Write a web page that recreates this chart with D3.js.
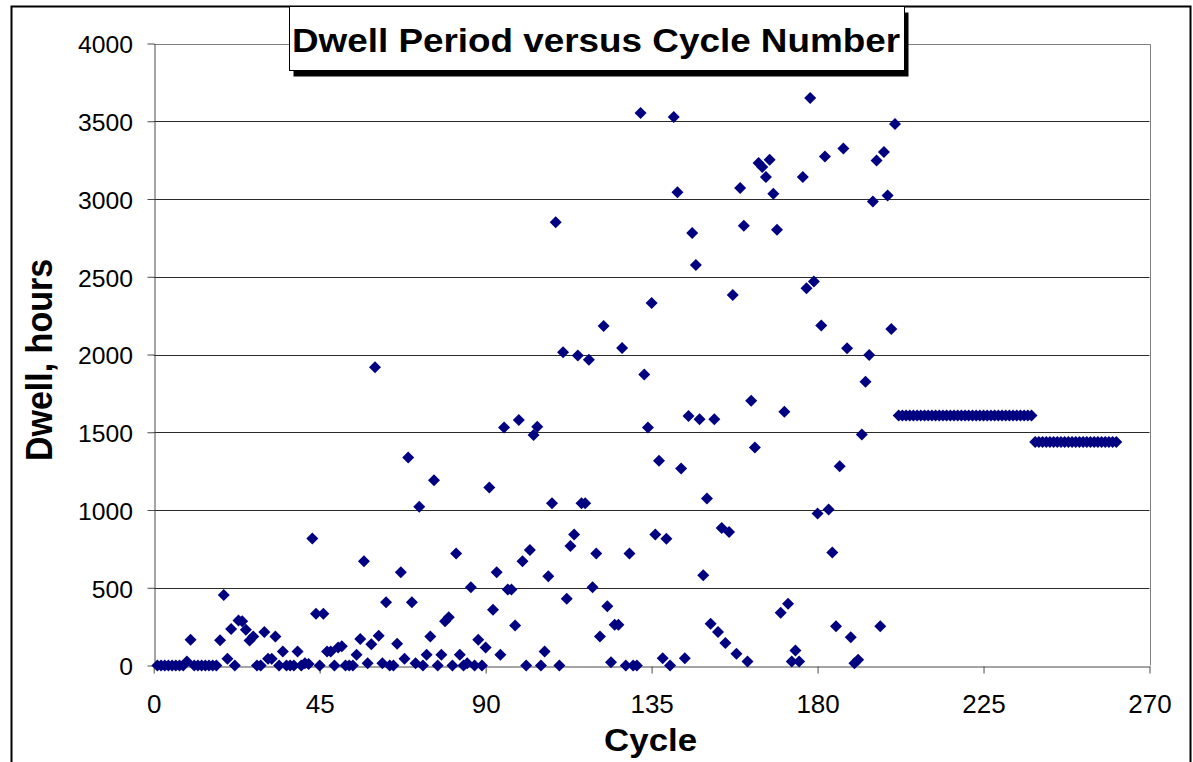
<!DOCTYPE html>
<html>
<head>
<meta charset="utf-8">
<script src="https://cdn.jsdelivr.net/npm/d3@7/dist/d3.min.js"></script>
<style>
  html, body { margin: 0; padding: 0; background: #fff; }
  svg { display: block; }
  text { font-family: "Liberation Sans", Arial, Helvetica, sans-serif; fill: #000; }
</style>
</head>
<body>
<svg id="chart" width="1193" height="762"></svg>
<script>
// Dwell period (hours) recorded for each cycle, starting at cycle 1
const firstCycle = 1;
const dwellHours = [
  0, 0, 0, 0, 0, 0, 0, 0, 25, 165,                 // 1-10
  0, 0, 0, 0, 0, 0, 0, 163, 454, 43,               // 11-20
  234, 0, 290, 284, 230, 161, 187, 0, 0, 215,      // 21-30
  43, 43, 187, 0, 90, 0, 0, 0, 90, 0,              // 31-40
  15, 10, 817, 333, 0, 333, 90, 90, 0, 116,        // 41-50
  123, 0, 0, 0, 69, 170, 671, 15, 137, 1918,       // 51-60
  191, 15, 406, 0, 0, 140, 600, 43, 1338, 406,     // 61-70
  15, 1021, 0, 69, 187, 1192, 0, 69, 284, 310,     // 71-80
  0, 721, 69, 0, 15, 503, 0, 166, 0, 116,          // 81-90
  1144, 359, 600, 69, 1531, 488, 488, 258, 1579, 671, // 91-100
  0, 742, 1482, 1535, 0, 90, 574, 1043, 2850, 0,   // 101-110
  2015, 430, 768, 843, 1994, 1043, 1043, 1966, 503, 721, // 111-120
  187, 2183, 381, 21, 262, 262, 2041, 0, 721, 0,   // 121-130
  0, 3553, 1871, 1531, 2331, 843, 1316, 47, 815, 0, // 131-140
  3527, 3043, 1267, 47, 1604, 2781, 2576, 1583, 580, 1074, // 141-150
  269, 1583, 215, 884, 144, 859, 2383, 75, 3071, 2828, // 151-160
  26, 1702, 1402, 3231, 3205, 3141, 3253, 3034, 2802, 340, // 161-170
  1632, 397, 26, 97, 26, 3141, 2426, 3650, 2469, 977, // 171-180
  2186, 3274, 1003, 726, 253, 1282, 3324, 2040, 182, 15, // 181-190
  37, 1486, 1825, 1997, 2984, 3248, 253, 3302, 3023, 2164, // 191-200
  3483,                                            // 201
  1608, 1608, 1608, 1608, 1608, 1608, 1608, 1608, 1608, // 202-210
  1608, 1608, 1608, 1608, 1608, 1608, 1608, 1608, 1608, 1608, // 211-220
  1608, 1608, 1608, 1608, 1608, 1608, 1608, 1608, 1608, 1608, // 221-230
  1608, 1608, 1608, 1608, 1608, 1608, 1608, 1608,  // 231-238
  1438, 1438, 1438, 1438, 1438, 1438, 1438, 1438, 1438, 1438, // 239-248
  1438, 1438, 1438, 1438, 1438, 1438, 1438, 1438, 1438, 1438, // 249-258
  1438, 1438, 1438                                 // 259-261
];

const xTicks = [0, 45, 90, 135, 180, 225, 270];
const yTicks = [0, 500, 1000, 1500, 2000, 2500, 3000, 3500, 4000];

const chartTitle = "Dwell Period versus Cycle Number";
const xTitle = "Cycle";
const yTitle = "Dwell, hours";

const points = dwellHours.map((v, i) => ({ cycle: firstCycle + i, dwell: v }));

const svg = d3.select("#chart");
const W = 1193, H = 762;
const plot = { left: 153.7, right: 1149.5, top: 43.5, bottom: 665.5 };
const stretch = 1.08;   // text in this layout is drawn slightly wide

const x = d3.scaleLinear().domain([0, 270]).range([plot.left, plot.right]);
const y = d3.scaleLinear().domain([0, 4000]).range([plot.bottom, plot.top]);

svg.append("rect").attr("width", W).attr("height", H).attr("fill", "#fff");

// outer chart frame (runs past the bottom edge)
svg.append("rect")
  .attr("x", 11.5).attr("y", 6.5)
  .attr("width", 1179).attr("height", 820)
  .attr("fill", "none").attr("stroke", "#000").attr("stroke-width", 2);

// horizontal gridlines
svg.append("g")
  .selectAll("line")
  .data(yTicks.filter(t => t > 0 && t < 4000))
  .join("line")
  .attr("x1", plot.left).attr("x2", plot.right)
  .attr("y1", d => Math.round(y(d)) + 0.5).attr("y2", d => Math.round(y(d)) + 0.5)
  .attr("stroke", "#2a2a2a").attr("stroke-width", 1);

// plot area border (top and right)
svg.append("path")
  .attr("d", `M${plot.left},${Math.round(y(4000)) + 0.5}H${Math.round(x(270)) + 0.5}V${plot.bottom}`)
  .attr("fill", "none").attr("stroke", "#808080").attr("stroke-width", 1);

// y axis
const yAxis = svg.append("g")
  .attr("transform", `translate(${Math.round(plot.left) + 0.5},0)`)
  .call(d3.axisLeft(y).tickValues(yTicks).tickSize(7).tickSizeOuter(0).tickPadding(14.5)
    .tickFormat(d3.format("d")));
yAxis.select(".domain").attr("stroke", "#4a4a4a");
yAxis.selectAll(".tick line").attr("stroke", "#4a4a4a");
yAxis.selectAll(".tick text")
  .attr("font-size", 24)
  .attr("x", null).attr("dy", null)
  .attr("transform", `translate(-21.5,9.3) scale(${stretch - 0.05},1)`)
  .attr("text-anchor", "end");

// x axis
const xAxis = svg.append("g")
  .attr("transform", `translate(0,${Math.round(plot.bottom) + 0.5})`)
  .call(d3.axisBottom(x).tickValues(xTicks).tickSize(7).tickSizeOuter(0)
    .tickFormat(d3.format("d")));
xAxis.select(".domain").attr("stroke", "#4a4a4a");
xAxis.selectAll(".tick line").attr("stroke", "#4a4a4a");
xAxis.selectAll(".tick text")
  .attr("font-size", 25)
  .attr("y", null).attr("dy", null)
  .attr("transform", `translate(0,46) scale(${stretch - 0.04},1)`)
  .attr("text-anchor", "middle");

// data markers: navy diamonds
const diamond = "M0,-6L6,0L0,6L-6,0Z";
svg.append("g")
  .selectAll("path")
  .data(points)
  .join("path")
  .attr("d", diamond)
  .attr("transform", d => `translate(${x(d.cycle)},${y(d.dwell)})`)
  .attr("fill", "#000080");

// axis titles
svg.append("text")
  .attr("transform", `translate(${(plot.left + plot.right) / 2 - 1},751) scale(${stretch + 0.01},1)`)
  .attr("text-anchor", "middle")
  .attr("font-size", 32).attr("font-weight", "bold")
  .text(xTitle);

svg.append("text")
  .attr("transform", `translate(52,360) scale(${stretch},1) rotate(-90)`)
  .attr("text-anchor", "middle")
  .attr("font-size", 34).attr("font-weight", "bold")
  .text(yTitle);

// chart title box with drop shadow
const box = { x: 289.5, y: 6.5, w: 615, h: 64 };
svg.append("rect")
  .attr("x", box.x + 4).attr("y", box.y + 6)
  .attr("width", box.w).attr("height", box.h)
  .attr("fill", "#000");
svg.append("rect")
  .attr("x", box.x).attr("y", box.y)
  .attr("width", box.w).attr("height", box.h)
  .attr("fill", "#fff").attr("stroke", "#000").attr("stroke-width", 1);
svg.append("text")
  .attr("transform", `translate(${box.x + box.w / 2 - 1},51.5) scale(${stretch + 0.02},1)`)
  .attr("text-anchor", "middle")
  .attr("font-size", 33.5).attr("font-weight", "bold")
  .text(chartTitle);
</script>
</body>
</html>
